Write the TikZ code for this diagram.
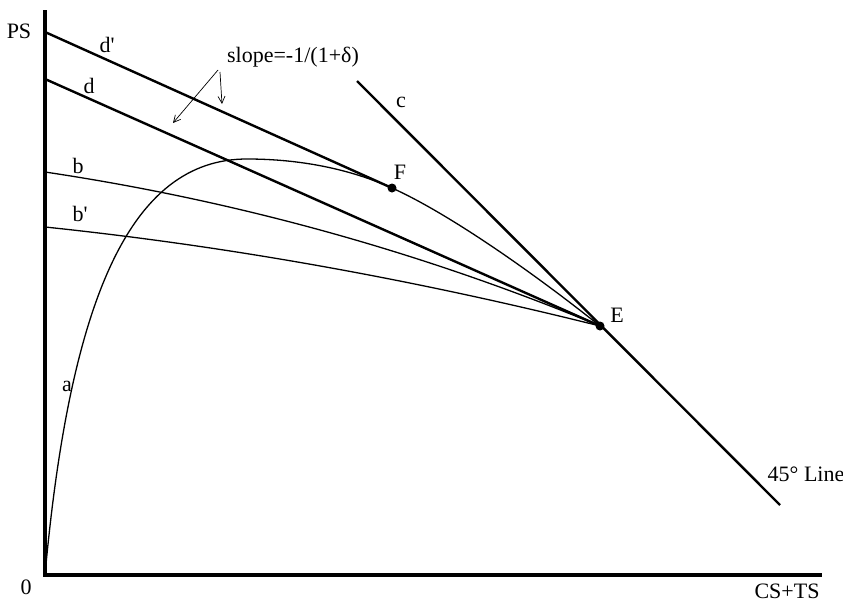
\documentclass[tikz,border=0pt]{standalone}
\usepackage{fontspec}
\setmainfont{Liberation Serif}
\usepackage{tikz}
\usetikzlibrary{arrows.meta,positioning,calc}

\begin{document}
\begin{tikzpicture}[x=1pt,y=-1pt,>={Straight Barb[length=7pt,width=7pt]},
   font=\fontsize{22}{26}\selectfont,
   ax/.style={line width=3.6pt},
   ln/.style={line width=2.4pt},
   cv/.style={line width=1.3pt},
   dot/.style={circle,fill,minimum size=9pt,inner sep=0pt},
   lab/.style={inner sep=1pt}]
  \useasboundingbox (0,0) rectangle (843,605);
  % axes
  \coordinate (O) at (45,575);
  \coordinate (ytop) at (45,10);
  \coordinate (xend) at (822,575);
  \draw[ax] (ytop) -- (O) -- (xend);
  \node[lab] (ps) at (19,31) {PS};
  \node[lab] (zero) at (26,587) {0};
  \node[lab] (csts) at (787,591) {CS+TS};
  % points
  \coordinate (E) at (600,326);
  \coordinate (F) at (392,188);
  % budget lines
  \coordinate (dp0) at (45,32);
  \coordinate (d0) at (45,79);
  \coordinate (c0) at (357,81);
  \coordinate (c1) at (780,505);
  \draw[ln] (dp0) -- (F);
  \draw[ln] (d0) -- (E);
  \draw[ln] (c0) -- (c1);
  % indifference curves
  \coordinate (b0) at (45,172);
  \coordinate (bp0) at (45,227);
  \draw[cv] (b0) .. controls (239,201) and (424,253) .. (E);
  \draw[cv] (bp0) .. controls (227,246) and (412,279) .. (E);
  % frontier
  \draw[cv] (O) .. controls (70,300) and (130,159) .. (247,159)
     .. controls (300,159) and (350,169) .. (F)
     .. controls (452,215) and (540,278) .. (E);
  \node[dot] (Edot) at (E) {};
  \node[dot] (Fdot) at (F) {};
  \node[lab] (Elab) at (617,315) {E};
  \node[lab] (Flab) at (400,172) {F};
  % labels
  \node[lab] (dplab) at (107,45) {d\textquotesingle};
  \node[lab] (dlab) at (89,86) {d};
  \node[lab] (clab) at (401,102) {c};
  \node[lab] (blab) at (78,166) {b};
  \node[lab] (bplab) at (80,214) {b\textquotesingle};
  \node[lab] (alab) at (67,386) {a};
  \node[lab] (line45) at (806,474) {45° Line};
  \node[lab] (slope) at (293,57) {slope=-1/(1+δ)};
  \coordinate (s1) at (218,70);
  \coordinate (s2) at (220,72);
  \coordinate (t1) at (173,123);
  \coordinate (t2) at (222,104);
  \draw[->,line width=0.7pt] (s1) -- (t1);
  \draw[->,line width=0.7pt] (s2) -- (t2);
\end{tikzpicture}
\end{document}
